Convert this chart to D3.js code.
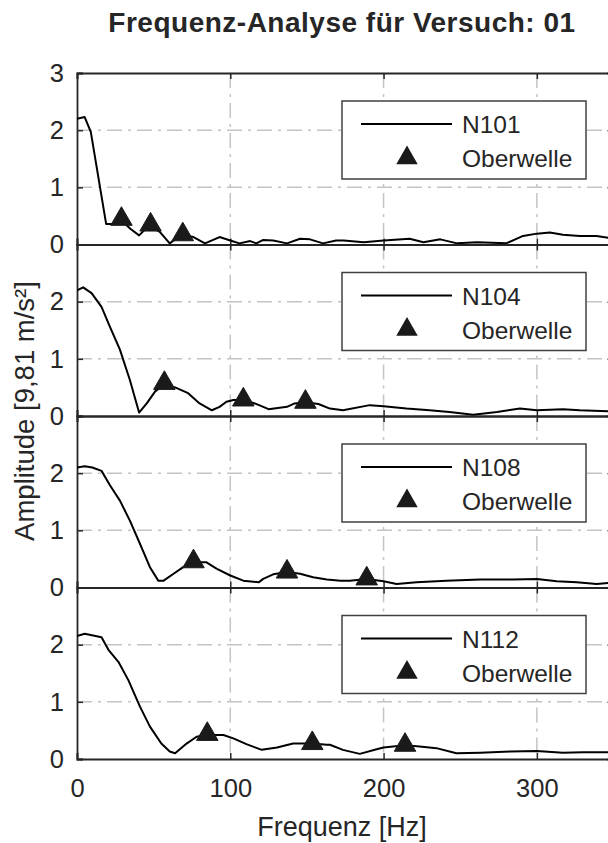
<!DOCTYPE html>
<html>
<head>
<meta charset="utf-8">
<script src="https://cdn.jsdelivr.net/npm/d3@7"></script>
<style>
  body { margin: 0; background: #fff; }
  text { font-family: "Liberation Sans", Arial, sans-serif; fill: #262626; }
</style>
</head>
<body>
<div id="chart"></div>
<script>
// chart values
var title = "Frequenz-Analyse für Versuch: 01";
var xLabel = "Frequenz [Hz]";
var yLabel = "Amplitude [9,81 m/s²]";
var seriesNames = ["N101", "N104", "N108", "N112"];
var markerName = "Oberwelle";
var xTicks = [0, 100, 200, 300];
var yTicksTop = [0, 1, 2, 3];
var yTicksRest = [0, 1, 2];

var n101 = [[0,2.2],[5,2.23],[9,1.97],[19,0.36],[23,0.36],[29,0.42],[35,0.27],[40.5,0.16],[47,0.33],[54,0.22],[60.5,0.02],
    [68,0.17],[76,0.13],[83.5,0.02],[93,0.13],[100,0.07],[106,0.02],[113,0.06],[117,0.02],[121.5,0.08],[128,0.07],
    [137,0.02],[145.5,0.1],[152,0.09],[160.5,0.02],[169,0.07],[174,0.07],[187,0.04],[200,0.07],[217,0.1],[226,0.04],
    [237,0.09],[248,0.02],[261,0.04],[280,0.02],[291,0.15],[300,0.19],[308.5,0.21],[317,0.17],[328,0.15],[339,0.15],[350,0.1]];
var n104 = [[0,2.2],[4,2.25],[9.5,2.15],[16,1.91],[21.5,1.56],[28,1.16],[34.5,0.63],[40.5,0.06],[45.5,0.22],[51,0.43],
    [57,0.55],[64,0.5],[72.5,0.4],[80,0.22],[88,0.1],[93,0.16],[97.5,0.25],[102,0.28],[108.5,0.28],[116,0.22],
    [125,0.12],[137,0.16],[142,0.22],[149,0.24],[157.5,0.21],[165,0.13],[173.5,0.1],[191,0.19],[200,0.17],[215,0.13],
    [230,0.1],[243,0.07],[258.5,0.02],[274,0.07],[289,0.13],[300,0.1],[317,0.12],[328,0.1],[350,0.08]];
var n108 = [[0,2.1],[5,2.12],[10,2.1],[16,2.04],[21.5,1.79],[28,1.52],[34.5,1.17],[41,0.77],[47.5,0.36],[53,0.12],
    [56.5,0.12],[63,0.24],[69.5,0.36],[76,0.44],[84.5,0.44],[91,0.33],[100,0.21],[108.5,0.12],[118.5,0.09],[121.5,0.15],
    [128,0.23],[137,0.27],[145.5,0.24],[154,0.18],[163,0.14],[172,0.12],[178,0.12],[189,0.15],[200,0.11],[208.5,0.06],
    [221.5,0.09],[241,0.12],[263,0.14],[284.5,0.14],[300,0.15],[313,0.11],[326,0.09],[339,0.06],[350,0.09]];
var n112 = [[0,2.15],[5,2.19],[16,2.13],[20.5,1.91],[27,1.7],[33.5,1.38],[41,0.92],[47.5,0.57],[55,0.27],[60.5,0.13],
    [64,0.1],[71.5,0.27],[78,0.39],[85,0.42],[95.5,0.42],[102,0.36],[110.5,0.26],[120.5,0.16],[130.5,0.2],[141,0.27],
    [153.5,0.27],[163,0.25],[165,0.25],[173.5,0.16],[184.5,0.09],[195.5,0.17],[200,0.2],[214,0.24],[223.5,0.22],
    [234.5,0.19],[247.5,0.1],[263,0.11],[282.5,0.13],[300,0.14],[317,0.11],[330,0.12],[350,0.12]];

var peaks101 = [[29,0.47],[48,0.37],[69,0.2]];
var peaks104 = [[57,0.6],[108.5,0.31],[149,0.27]];
var peaks108 = [[76,0.48],[137,0.3],[189,0.18]];
var peaks112 = [[85,0.46],[153.5,0.3],[214,0.27]];

var allSeries = [n101, n104, n108, n112];
var allPeaks = [peaks101, peaks104, peaks108, peaks112];

var width = 608, height = 843;
var plotL = 77, plotR = 613.5, plotT = 73, panelH = 171.5;
var axisColor = "#262626", gridColor = "#c4c4c4";

var svg = d3.select("#chart").append("svg")
    .attr("width", width)
    .attr("height", height);

svg.append("defs").append("clipPath")
    .attr("id", "clip")
  .append("rect")
    .attr("x", 0).attr("y", 0)
    .attr("width", plotR - plotL).attr("height", panelH);

var x = d3.scaleLinear().domain([0, 350]).range([0, plotR - plotL]);
var y = d3.scaleLinear().domain([0, 3]).range([panelH, 0]);

var line = d3.line()
    .x(function(d) {return x(d[0]);})
    .y(function(d) {return y(d[1]);});

var tri = d3.symbol().type(d3.symbolTriangle).size(200);

allSeries.forEach(function(data, i) {
    var g = svg.append("g")
        .attr("transform", "translate(" + plotL + "," + (plotT + i * panelH) + ")");

    // grid
    g.selectAll(".vgrid")
        .data(xTicks.slice(1))
      .enter().append("line")
        .attr("x1", x).attr("x2", x)
        .attr("y1", 0).attr("y2", panelH)
        .attr("stroke", gridColor)
        .attr("stroke-width", 1.5)
        .attr("stroke-dasharray", "15,6,3,6");
    g.selectAll(".hgrid")
        .data([1, 2])
      .enter().append("line")
        .attr("x1", 0).attr("x2", plotR - plotL)
        .attr("y1", y).attr("y2", y)
        .attr("stroke", gridColor)
        .attr("stroke-width", 1.5)
        .attr("stroke-dasharray", "15,6,3,6");

    // axes with inward ticks
    var yt = i === 0 ? yTicksTop : yTicksRest;
    g.append("g")
        .call(d3.axisLeft(y).tickValues(yt).tickSize(-6).tickPadding(13).tickFormat(d3.format("d")));
    g.append("g")
        .attr("transform", "translate(" + (plotR - plotL) + ",0)")
        .call(d3.axisRight(y).tickValues([0, 1, 2, 3]).tickSize(-6).tickFormat(""));
    g.append("g")
        .call(d3.axisTop(x).tickValues(xTicks).tickSize(-6).tickFormat(""));
    g.append("g")
        .attr("transform", "translate(0," + panelH + ")")
        .call(d3.axisBottom(x).tickValues(xTicks).tickSize(-6).tickPadding(20)
            .tickFormat(i === 3 ? d3.format("d") : ""));
    g.selectAll(".domain").attr("stroke", axisColor).attr("stroke-width", 1.8);
    g.selectAll(".tick line").attr("stroke", axisColor).attr("stroke-width", 1.5);
    g.selectAll(".tick text")
        .attr("font-size", 25.5)
        .attr("font-family", "Liberation Sans, Arial, sans-serif")
        .attr("fill", "#404040");

    // data
    g.append("path")
        .datum(data)
        .attr("clip-path", "url(#clip)")
        .attr("fill", "none")
        .attr("stroke", "#000")
        .attr("stroke-width", 2)
        .attr("stroke-linejoin", "round")
        .attr("d", line);

    g.selectAll(".peak")
        .data(allPeaks[i])
      .enter().append("path")
        .attr("transform", function(d) {return "translate(" + x(d[0]) + "," + (y(d[1]) + 1.5) + ")";})
        .attr("d", tri)
        .attr("fill", "#1a1a1a")
        .attr("stroke", "#1a1a1a")
        .attr("stroke-width", 1);

    // legend
    var lg = g.append("g").attr("transform", "translate(" + (342 - plotL) + ",28)");
    lg.append("rect")
        .attr("width", 244).attr("height", 78)
        .attr("fill", "#fff")
        .attr("stroke", "#404040")
        .attr("stroke-width", 1.5);
    lg.append("line")
        .attr("x1", 19).attr("x2", 110)
        .attr("y1", 23).attr("y2", 23)
        .attr("stroke", "#000").attr("stroke-width", 2);
    lg.append("text")
        .attr("x", 120).attr("y", 32)
        .attr("font-size", 24.5)
        .attr("fill", "#262626")
        .text(seriesNames[i]);
    lg.append("path")
        .attr("transform", "translate(65,57)")
        .attr("d", tri)
        .attr("fill", "#1a1a1a");
    lg.append("text")
        .attr("x", 120).attr("y", 66)
        .attr("font-size", 24.5)
        .attr("fill", "#262626")
        .text(markerName);
});

svg.append("text")
    .attr("x", 342).attr("y", 32)
    .attr("text-anchor", "middle")
    .attr("font-size", 28)
    .attr("font-weight", "bold")
    .attr("letter-spacing", 0.5)
    .attr("fill", "#1a1a1a")
    .text(title);

svg.append("text")
    .attr("x", 342).attr("y", 836)
    .attr("text-anchor", "middle")
    .attr("font-size", 27)
    .attr("fill", "#404040")
    .text(xLabel);

svg.append("text")
    .attr("transform", "translate(34,411)rotate(-90)")
    .attr("text-anchor", "middle")
    .attr("font-size", 27.5)
    .attr("fill", "#404040")
    .text(yLabel);
</script>
</body>
</html>
